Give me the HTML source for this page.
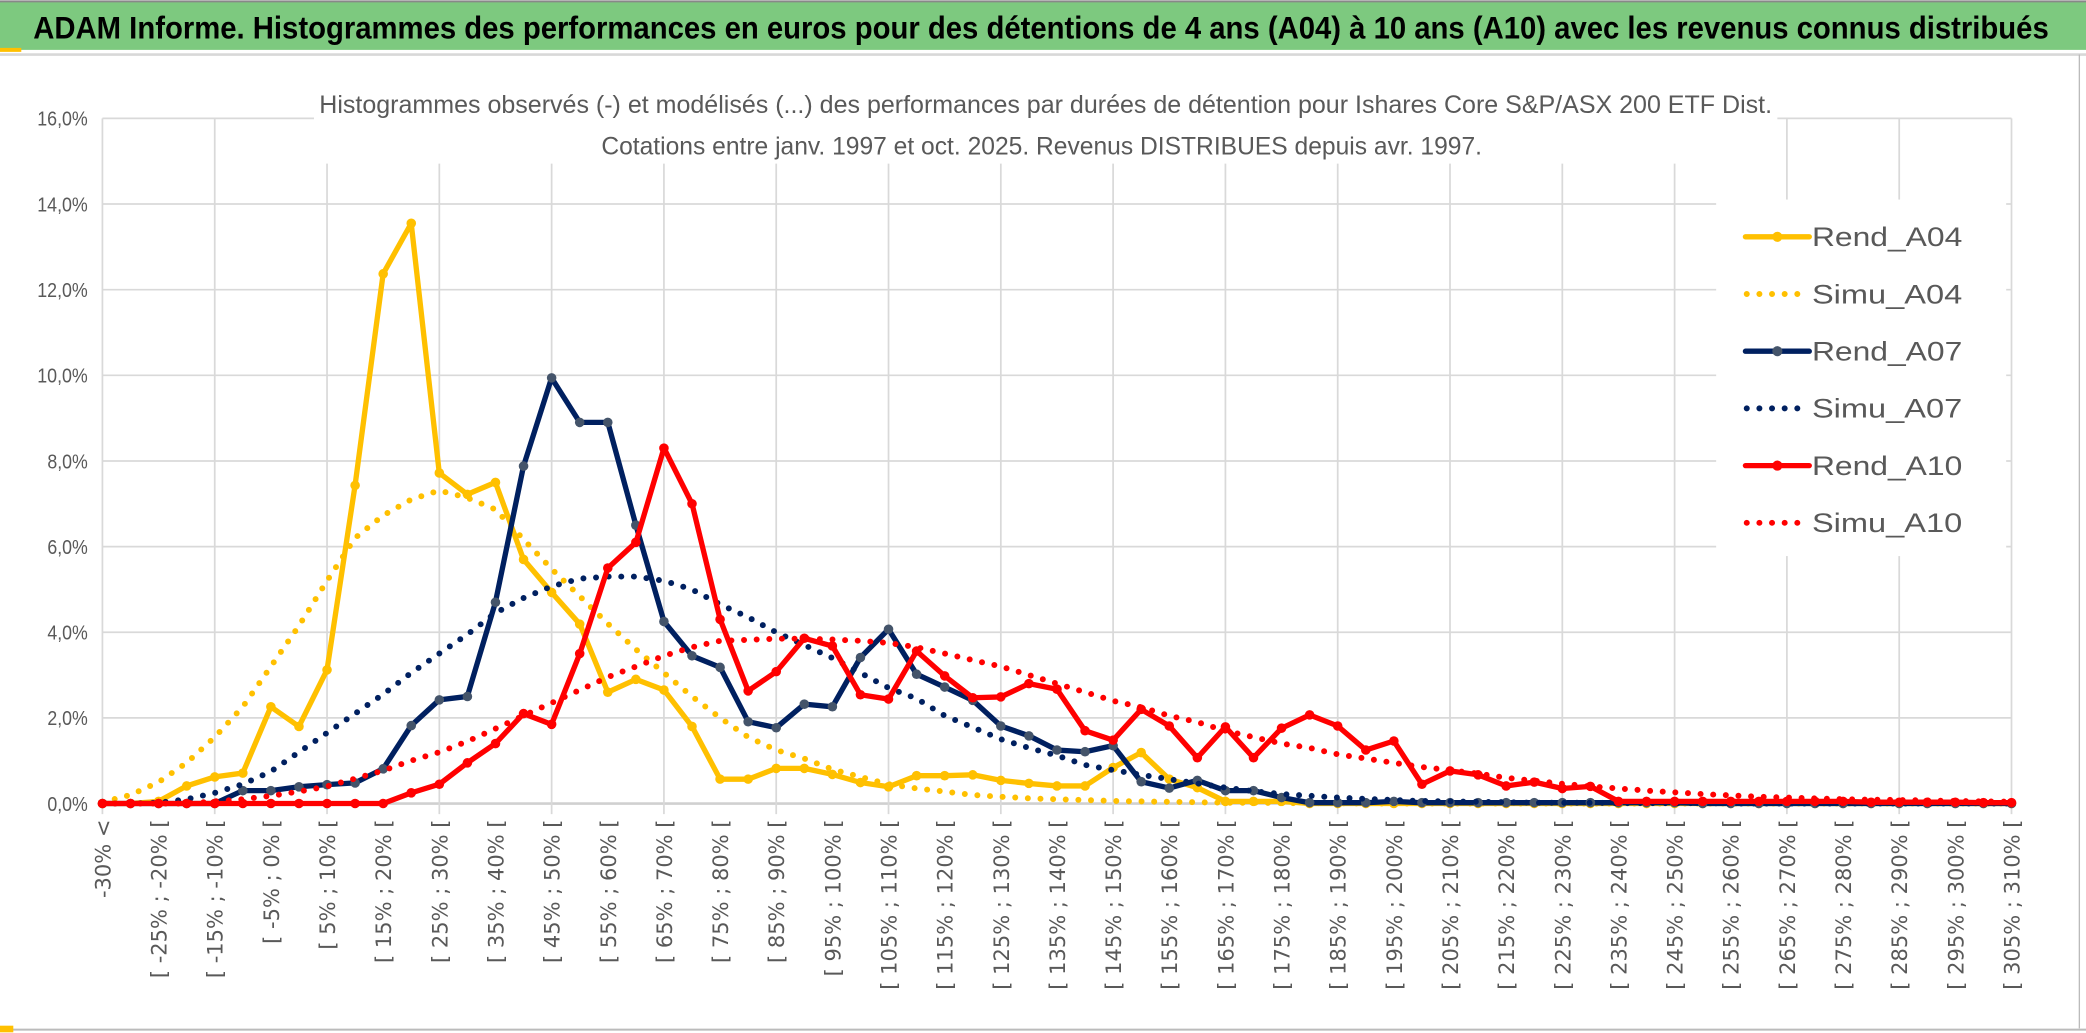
<!DOCTYPE html>
<html><head><meta charset="utf-8"><style>
html,body{margin:0;padding:0;background:#fff;}
svg{display:block;}
</style></head><body>
<svg id="chart" xmlns="http://www.w3.org/2000/svg" width="2086" height="1033" viewBox="0 0 1568 776.5" preserveAspectRatio="none">
  <rect x="0" y="0" width="1568" height="776.5" fill="#fff"/>
  <rect x="0" y="1.5" width="1568" height="36" fill="#7dc97f"/>
  <line x1="0" y1="1" x2="1568" y2="1" stroke="#888" stroke-width="1.5"/>
  <rect x="0" y="36" width="16" height="3" fill="#ffc000"/>
  <line x1="0" y1="41" x2="1568" y2="41" stroke="#d8d8d8" stroke-width="2"/>
  <line x1="1563" y1="41" x2="1563" y2="773" stroke="#bbb" stroke-width="1"/>
  <line x1="0" y1="774" x2="1568" y2="774" stroke="#bbb" stroke-width="1.5"/>
  <rect x="0" y="771" width="10" height="5" fill="#ffc000"/>
  <text x="25" y="29" font-family="Liberation Sans, sans-serif" font-weight="bold" font-size="24" fill="#000" textLength="1515" lengthAdjust="spacingAndGlyphs">ADAM Informe. Histogrammes des performances en euros pour des détentions de 4 ans (A04) à 10 ans (A10) avec les revenus connus distribués</text>
  <g id="grid"></g>
  <g id="yaxis"></g>
  <g id="xaxis"></g>
  <rect x="236" y="63" width="1100" height="60" fill="#fff"/>
  <text x="786" y="85" text-anchor="middle" font-family="Liberation Sans, sans-serif" font-size="19" fill="#595959" textLength="1092" lengthAdjust="spacingAndGlyphs">Histogrammes observés (-) et modélisés (...) des performances par durées de détention pour Ishares Core S&amp;P/ASX 200 ETF Dist.</text>
  <text x="783" y="116" text-anchor="middle" font-family="Liberation Sans, sans-serif" font-size="19" fill="#595959" textLength="662" lengthAdjust="spacingAndGlyphs">Cotations entre janv. 1997 et oct. 2025. Revenus DISTRIBUES depuis avr. 1997.</text>
  <g id="series"></g>
  <g id="legend"></g>
</svg>
<script>
const NS = "http://www.w3.org/2000/svg";
const yTicks = [0, 2, 4, 6, 8, 10, 12, 14, 16];
const yTickLabels = ["0,0%", "2,0%", "4,0%", "6,0%", "8,0%", "10,0%", "12,0%", "14,0%", "16,0%"];
const binStarts = [-30,-25,-20,-15,-10,-5,0,5,10,15,20,25,30,35,40,45,50,55,60,65,70,75,80,85,90,95,100,105,110,115,120,125,130,135,140,145,150,155,160,165,170,175,180,185,190,195,200,205,210,215,220,225,230,235,240,245,250,255,260,265,270,275,280,285,290,295,300,305];
const rendA04 = [0,0,0.05,0.41,0.62,0.71,2.26,1.8,3.12,7.43,12.37,13.55,7.72,7.22,7.5,5.7,4.93,4.19,2.6,2.9,2.65,1.8,0.57,0.57,0.82,0.82,0.68,0.49,0.39,0.65,0.65,0.67,0.54,0.47,0.41,0.41,0.84,1.19,0.57,0.37,0.05,0.05,0.05,0,0,0,0,0,0,0,0,0,0,0,0,0,0,0,0,0,0,0,0,0,0,0,0,0,0];
const simuA04 = [0.03,0.2,0.5,0.95,1.55,2.26,3.2,4.15,5.2,6.2,6.73,7.1,7.31,7.14,6.87,6.17,5.48,4.84,4.2,3.6,3.05,2.5,2.0,1.55,1.25,1.05,0.8,0.62,0.45,0.35,0.28,0.2,0.16,0.12,0.1,0.08,0.06,0.05,0.04,0.03,0.02,0.02,0.01,0.01,0.01,0,0,0,0,0,0,0,0,0,0,0,0,0,0,0,0,0,0,0,0,0,0,0,0];
const rendA07 = [0,0,0,0,0,0.3,0.3,0.39,0.44,0.48,0.81,1.82,2.42,2.5,4.7,7.88,9.94,8.9,8.9,6.5,4.25,3.45,3.18,1.91,1.77,2.32,2.26,3.41,4.07,3.02,2.72,2.41,1.81,1.58,1.25,1.21,1.35,0.51,0.36,0.54,0.3,0.3,0.14,0.02,0.02,0.02,0.05,0.02,0.02,0.02,0.02,0.02,0.02,0.02,0.02,0.02,0.02,0,0,0,0,0,0,0,0,0,0,0,0];
const simuA07 = [0,0,0.02,0.1,0.25,0.45,0.75,1.2,1.65,2.1,2.55,3.05,3.5,3.95,4.45,4.8,5.07,5.25,5.3,5.3,5.2,5.0,4.65,4.35,4.0,3.7,3.4,3.05,2.7,2.45,2.05,1.78,1.5,1.3,1.12,0.9,0.78,0.67,0.57,0.47,0.37,0.29,0.22,0.18,0.14,0.11,0.08,0.06,0.05,0.04,0.03,0.02,0.02,0.02,0.01,0.01,0.01,0.01,0,0,0,0,0,0,0,0,0,0,0];
const rendA10 = [0,0,0,0,0,0,0,0,0,0,0,0.25,0.45,0.95,1.4,2.1,1.85,3.5,5.5,6.1,8.3,7.0,4.3,2.63,3.08,3.86,3.68,2.54,2.44,3.56,2.98,2.47,2.49,2.8,2.67,1.7,1.48,2.2,1.81,1.07,1.79,1.07,1.76,2.07,1.81,1.25,1.46,0.45,0.76,0.67,0.41,0.5,0.35,0.4,0.05,0.05,0.05,0.05,0.05,0.05,0.05,0.05,0.05,0.03,0.03,0.03,0.03,0.02,0.02];
const simuA10 = [0,0,0,0,0.05,0.1,0.18,0.28,0.4,0.58,0.77,1.0,1.2,1.45,1.75,2.05,2.35,2.65,2.95,3.2,3.45,3.65,3.8,3.82,3.85,3.85,3.83,3.8,3.75,3.65,3.5,3.35,3.2,3.0,2.8,2.6,2.4,2.25,2.05,1.9,1.7,1.55,1.4,1.3,1.15,1.05,0.95,0.85,0.78,0.7,0.6,0.53,0.46,0.4,0.35,0.3,0.26,0.22,0.19,0.16,0.14,0.12,0.1,0.09,0.08,0.07,0.06,0.05,0.04];
const seriesNames = ["Rend_A04","Simu_A04","Rend_A07","Simu_A07","Rend_A10","Simu_A10"];

const categories = ["-30% <"];
for (const s of binStarts) categories.push("[ " + s + "% ; " + (s + 5) + "% [");

const X0 = 77, X1 = 1512, Y0 = 604, YTOP = 89, YMAX = 16;
function xPos(i){ return X0 + i * (X1 - X0) / (categories.length - 1); }
function yPos(v){ return Y0 - v / YMAX * (Y0 - YTOP); }
function mk(tag, attrs, parent){ const e = document.createElementNS(NS, tag); for (const k in attrs) e.setAttribute(k, attrs[k]); parent.appendChild(e); return e; }

const grid = document.getElementById("grid");
const yaxis = document.getElementById("yaxis");
const xaxis = document.getElementById("xaxis");
yTicks.forEach((t, k) => {
  const l = mk("line", {x1: X0, x2: X1, y1: yPos(t), y2: yPos(t), stroke: t === 0 ? "#d0d0d0" : "#d9d9d9", "stroke-width": t === 0 ? 2 : 1.3}, grid);
  
  
  const tx = mk("text", {x: 66, y: yPos(t) + 5.5, "text-anchor": "end", "font-family": "Liberation Sans, sans-serif", "font-size": 15, fill: "#595959", textLength: yTickLabels[k].length * 7.6, lengthAdjust: "spacingAndGlyphs"}, yaxis);
  tx.textContent = yTickLabels[k];
  
  
});
for (let i = 0; i < categories.length; i += 4) {
  const l = mk("line", {x1: xPos(i), x2: xPos(i), y1: YTOP, y2: Y0 + 8, stroke: "#d9d9d9", "stroke-width": 1.3}, grid);
  
  
}
for (let i = 0; i < categories.length; i += 2) {
  const x = xPos(i) + 6;
  const tx = mk("text", {x: x, y: 616, transform: "rotate(-90 " + x + " 616)", "text-anchor": "end", "font-family": "DejaVu Sans, sans-serif", "font-size": 15.8, fill: "#595959"}, xaxis);
  tx.textContent = categories[i];
  
  
}

const seriesLayer = document.getElementById("series");
function drawSolid(vals, color, markerColor, name){
  const g = mk("g", {}, seriesLayer);
  
  
  const pts = vals.map((v, i) => xPos(i).toFixed(1) + "," + yPos(v).toFixed(1)).join(" ");
  mk("polyline", {points: pts, fill: "none", stroke: color, "stroke-width": 4, "stroke-linejoin": "round"}, g);
  vals.forEach((v, i) => {
    const c = mk("circle", {cx: xPos(i), cy: yPos(v), r: 3.6, fill: markerColor}, g);
    
    
  });
}
function drawDotted(vals, color, name){
  const pts = vals.map((v, i) => xPos(i).toFixed(1) + "," + yPos(v).toFixed(1)).join(" ");
  const p = mk("polyline", {points: pts, fill: "none", stroke: color, "stroke-width": 4.5, "stroke-linecap": "round", "stroke-dasharray": "0 9.5"}, seriesLayer);
  
  
}
drawSolid(rendA04, "#ffc000", "#ffc000", "series-rend-a04");
drawDotted(simuA04, "#ffc000", "series-simu-a04");
drawSolid(rendA07, "#002060", "#44546a", "series-rend-a07");
drawDotted(simuA07, "#002060", "series-simu-a07");
drawSolid(rendA10, "#ff0000", "#ff0000", "series-rend-a10");
drawDotted(simuA10, "#ff0000", "series-simu-a10");

const legend = document.getElementById("legend");
mk("rect", {x: 1290, y: 150, width: 218, height: 268, fill: "#fff"}, legend);
const legendStyles = [
  {c: "#ffc000", m: "#ffc000", dot: false},
  {c: "#ffc000", dot: true},
  {c: "#002060", m: "#44546a", dot: false},
  {c: "#002060", dot: true},
  {c: "#ff0000", m: "#ff0000", dot: false},
  {c: "#ff0000", dot: true}
];
seriesNames.forEach((n, k) => {
  const y = 178 + k * 43;
  const g = mk("g", {}, legend);
  
  
  const st = legendStyles[k];
  if (st.dot) {
    mk("line", {x1: 1313, x2: 1355, y1: y, y2: y, stroke: st.c, "stroke-width": 4.5, "stroke-linecap": "round", "stroke-dasharray": "0 9.5"}, g);
  } else {
    mk("line", {x1: 1312, x2: 1360, y1: y, y2: y, stroke: st.c, "stroke-width": 4, "stroke-linecap": "round"}, g);
    mk("circle", {cx: 1336, cy: y, r: 3.8, fill: st.m}, g);
  }
  const t = mk("text", {x: 1362, y: y + 7, "font-family": "Liberation Sans, sans-serif", "font-size": 20, fill: "#595959", textLength: 113, lengthAdjust: "spacingAndGlyphs"}, g);
  t.textContent = n;
});
</script>
</body></html>
